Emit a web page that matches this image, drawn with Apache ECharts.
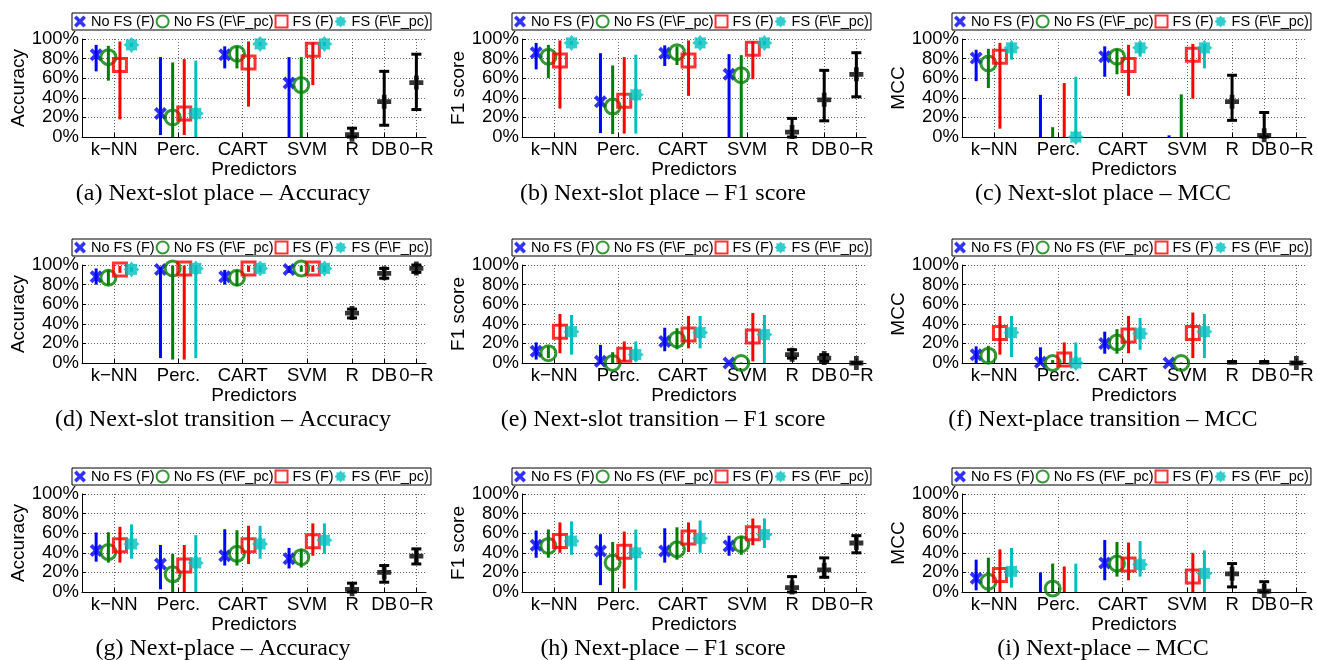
<!DOCTYPE html>
<html>
<head>
<meta charset="utf-8">
<script src="https://cdn.jsdelivr.net/npm/echarts@6/dist/echarts.min.js"></script>
<style>
html,body{margin:0;padding:0;background:#fff}
#chart{width:1317px;height:660px}
</style>
</head>
<body>
<div id="chart"></div>
<script>
// legend / series
var seriesNames = ['No FS (F)', 'No FS (F\\F_pc)', 'FS (F)', 'FS (F\\F_pc)'];
// x ticks: 4 predictors + 3 baselines
var tickPos = [1, 2, 3, 4, 4.7, 5.2, 5.7];
var tickLabels = ['k\u2212NN', 'Perc.', 'CART', 'SVM', 'R', 'DB', '0\u2212R'];
var predictorPos = [1, 2, 3, 4];
var baselinePos = [4.7, 5.2, 5.7];
var yNames = ['Accuracy', 'F1 score', 'MCC'];
var captions = [
    '(a) Next-slot place \u2013 Accuracy', '(b) Next-slot place \u2013 F1 score', '(c) Next-slot place \u2013 MCC',
    '(d) Next-slot transition \u2013 Accuracy', '(e) Next-slot transition \u2013 F1 score', '(f) Next-place transition \u2013 MCC',
    '(g) Next-place \u2013 Accuracy', '(h) Next-place \u2013 F1 score', '(i) Next-place \u2013 MCC'
];

// rows: No FS (F), No FS (F\F_pc), FS (F), FS (F\F_pc) ; cols: k-NN, Perc., CART, SVM  (values in %)
// base rows: mean, low, high ; cols: R, DB, 0-R
var meanA = [[84, 24, 84, 55], [81.5, 20, 85, 53], [73.5, 24, 76, 89], [94, 24, 95, 95]];
var lowA  = [[67, 2, 70, 0], [57.5, 0, 70, 0], [18, 2, 31, 53], [92, 0, 93, 93]];
var highA = [[94, 81.5, 92.5, 81.5], [93, 76, 92.5, 81.5], [97.5, 79.5, 97.5, 96.5], [96, 78, 97, 97]];
var baseA = [[2.4, 36, 55.5], [0, 12, 28], [9, 67, 84.5]];

var meanB = [[86, 36, 85.5, 64], [82, 31, 86.5, 63], [78, 37, 78, 90], [96, 43, 96, 96]];
var lowB  = [[69, 4, 72.5, 0], [60, 3, 73.5, 0], [29, 3.5, 42, 59], [94, 3.5, 94, 94]];
var highB = [[96, 85.5, 93.5, 84.5], [94, 73, 92.5, 83.5], [98.5, 81.5, 98.5, 97.5], [98, 84, 98, 98]];
var baseB = [[5, 38, 64], [0, 16.5, 41], [19, 68, 86]];

var meanC = [[80.5, null, 82, null], [75, null, 82, null], [82, null, 73.5, 84], [91, 0, 91, 91]];
var lowC  = [[57, 0, 61.5, 0], [50, 0, 64, 0], [8.5, 0, 42, 39], [79, 0, 82, 70]];
var highC = [[89, 43, 92.5, 1.7], [90, 10, 90, 43.5], [96, 55, 94, 95], [96, 61.5, 96, 95]];
var baseC = [[36, 1.7, null], [17, 0, null], [63, 25, null]];

var meanD = [[88, 95.5, 88, 95.5], [87, 96.5, 87, 96.5], [95.5, 96.5, 96.5, 96.5], [95.5, 96.5, 96.5, 96.5]];
var lowD  = [[80, 5, 80, 92], [79.5, 3.5, 78.5, 93], [92, 3.5, 93, 93], [93, 5, 93, 93]];
var highD = [[96.5, 98, 95, 99], [95, 99.5, 95, 99.5], [99, 99.5, 99.5, 99.5], [98, 99.5, 99, 99]];
var baseD = [[51, 91.5, 96.5], [46, 86.5, 92.5], [55, 96.5, 100]];

var meanE = [[12, 1.7, 22, 0], [10, 0, 24, 0], [32, 8.5, 29, 27], [32, 8.5, 31, 29]];
var lowE  = [[3.5, 0, 12, 0], [5, 0, 14, 0], [10, 1.7, 15, 1.7], [8.5, 1.7, 15, 0]];
var highE = [[21, 18.5, 36, 0.5], [17, 11, 35.5, 0.5], [50, 22, 48, 51], [49, 22, 48, 49]];
var baseE = [[8.5, 5, 0], [5, 1.7, 0], [13.5, 8.5, 0]];

var meanF = [[8.5, 0.7, 20, 0], [7.5, 0, 21, 0], [30.5, 3.5, 28, 30.5], [31, 0, 30, 32]];
var lowF  = [[0, 0, 9.5, 0], [0.7, 0, 9.5, 0], [8.5, 0, 10, 5], [6, 0, 13.5, 5]];
var highF = [[17, 16, 32, 0.5], [17.5, 3, 34.5, 0.5], [48, 21, 48, 51.5], [48, 21, 46, 50]];
var baseF = [[null, null, 0], [0, 0, 0], [1.5, 1.5, 0]];

var meanG = [[42.4, 28.6, 37, 34], [40.7, 18, 39, 35.5], [47.6, 27, 47.6, 51.7], [49, 29.7, 49, 52.8]];
var lowG  = [[31, 2.8, 27, 24], [30, 0, 27, 25], [30, 0, 28.6, 37], [34, 0, 34, 39]];
var highG = [[60.7, 48, 64, 45], [61, 39, 63, 44], [66.5, 48, 67.6, 70], [69, 58, 67.6, 70]];
var baseG = [[2.8, 20, 36.5], [0, 10, 28.6], [9, 27, 44]];

var meanH = [[47.7, 41.8, 41.8, 47], [47, 30, 43.5, 48.8], [52, 41, 55.7, 60], [52, 40, 54.7, 58.5]];
var lowH  = [[35, 7, 30, 37], [35, 0, 33, 38], [40, 3.5, 40.8, 47.7], [38, 1.7, 40, 45]];
var highH = [[62.7, 59, 65, 57.5], [63.8, 51, 66, 56.8], [71, 61.7, 71, 75], [72, 63.8, 73, 75]];
var baseH = [[4.5, 22.6, 50], [0, 15, 40], [15.7, 34.8, 57.5]];

var meanI = [[14, null, 29.6, null], [10.5, 3.5, 29, null], [17.4, null, 28, 15.7], [21, null, 28, 19]];
var lowI  = [[1.7, 0, 12, null], [0, 0, 15.7, null], [0, 0, 12, 0], [4.5, 0, 15.7, 0]];
var highI = [[33, 20, 53, null], [35, 29, 51, null], [43.5, 26, 50.5, 40], [45, 29, 52, 42.5]];
var baseI = [[18.5, 1, null], [5.2, 0, null], [29, 10.5, null]];

var panels = [
    [meanA, lowA, highA, baseA], [meanB, lowB, highB, baseB], [meanC, lowC, highC, baseC],
    [meanD, lowD, highD, baseD], [meanE, lowE, highE, baseE], [meanF, lowF, highF, baseF],
    [meanG, lowG, highG, baseG], [meanH, lowH, highH, baseH], [meanI, lowI, highI, baseI]
];

// layout / style
var colOff = [0, 440, 880];
var rowOff = [0, 226, 455];
var colors = ['#0000ff', '#008000', '#ff0000', '#00bfbf'];
var dx = [-0.28, -0.09, 0.09, 0.27];
var sans = 'Liberation Sans';

function starPath(rOut, rIn) {
    var s = 'path://';
    for (var i = 0; i < 16; i++) {
        var a = i * Math.PI / 8 - Math.PI / 2;
        var r = (i % 2) ? rIn : rOut;
        s += (i ? 'L' : 'M') + (5 + r * Math.cos(a)).toFixed(3) + ',' + (5 + r * Math.sin(a)).toFixed(3);
    }
    return s + 'Z';
}
var symX = 'path://M0,2.1L2.1,0L5,2.9L7.9,0L10,2.1L7.1,5L10,7.9L7.9,10L5,7.1L2.1,10L0,7.9L2.9,5Z';
var symPlus = 'path://M3.3,0H6.7V3.3H10V6.7H6.7V10H3.3V6.7H0V3.3H3.3Z';
var symbols = [symX, 'circle', 'rect', starPath(5, 3.6)];
var sizes = [13, 15, 13, 16];

function barItem(capHalf) {
    return function (params, api) {
        var x = api.value(0);
        var p1 = api.coord([x, api.value(1)]);
        var p2 = api.coord([x, api.value(2)]);
        var st = {stroke: api.visual('color'), lineWidth: 3};
        var ch = [{type: 'line', shape: {x1: p1[0], y1: p1[1], x2: p2[0], y2: p2[1]}, style: st}];
        if (capHalf) {
            ch.push({type: 'line', shape: {x1: p1[0] - capHalf, y1: p1[1], x2: p1[0] + capHalf, y2: p1[1]}, style: st});
            ch.push({type: 'line', shape: {x1: p2[0] - capHalf, y1: p2[1], x2: p2[0] + capHalf, y2: p2[1]}, style: st});
        }
        return {type: 'group', children: ch};
    };
}

function xLabel(v) {
    for (var i = 0; i < tickPos.length; i++) {
        if (Math.abs(tickPos[i] - v) < 1e-6) return tickLabels[i];
    }
    return '';
}

var grids = [], xAxes = [], yAxes = [], legends = [], titles = [];
var markerSeries = [], barSeries = [];

panels.forEach(function (pd, p) {
    var r = Math.floor(p / 3), c = p % 3;
    var mean = pd[0], low = pd[1], high = pd[2], base = pd[3];
    grids.push({left: colOff[c] + 82, top: rowOff[r] + 39, width: 344, height: 98,
        containLabel: false, outerBoundsMode: 'none'});
    xAxes.push({
        gridIndex: p, type: 'value', min: 0.5, max: 5.85,
        name: 'Predictors', nameLocation: 'middle', nameGap: 12,
        nameTextStyle: {fontFamily: sans, fontSize: 19, color: '#000'},
        axisLine: {lineStyle: {color: '#000', width: 1}},
        axisTick: {show: true, inside: true, length: 4, customValues: tickPos, lineStyle: {color: '#000'}},
        axisLabel: {customValues: tickPos, formatter: xLabel, hideOverlap: false,
            fontFamily: sans, fontSize: 18.5, color: '#000', margin: 3},
        splitLine: {show: true, lineStyle: {type: [1, 2], color: '#666', width: 1}}
    });
    yAxes.push({
        gridIndex: p, type: 'value', min: 0, max: 100, interval: 20,
        name: yNames[c], nameLocation: 'middle', nameGap: 53,
        nameTextStyle: {fontFamily: sans, fontSize: 19, color: '#000'},
        axisLine: {show: true, lineStyle: {color: '#000', width: 1}},
        axisTick: {show: true, inside: true, length: 4, lineStyle: {color: '#000'}},
        axisLabel: {formatter: '{value}%', fontFamily: sans, fontSize: 18.5, color: '#000', margin: 3},
        splitLine: {show: true, lineStyle: {type: [1, 2], color: '#666', width: 1}}
    });
    legends.push({
        data: seriesNames, left: colOff[c] + 72, top: rowOff[r] + 13, width: 380,
        orient: 'horizontal', itemGap: 1, itemWidth: 12, itemHeight: 12,
        padding: [1, 2], borderColor: '#000', borderWidth: 1, backgroundColor: '#fff',
        selectedMode: false,
        textStyle: {fontFamily: sans, fontSize: 14.5, color: '#000'}
    });
    titles.push({
        text: captions[p], left: colOff[c] + 223, top: rowOff[r] + 182, textAlign: 'center', padding: 0,
        textStyle: {fontFamily: 'Liberation Serif', fontSize: 24, fontWeight: 'normal', color: '#000'}
    });

    for (var k = 0; k < 4; k++) {
        var isEmpty = (k === 1 || k === 2);
        markerSeries.push({
            type: 'scatter', name: seriesNames[k], xAxisIndex: p, yAxisIndex: p,
            symbol: symbols[k], symbolSize: sizes[k], clip: false, z: 4,
            itemStyle: isEmpty ? {color: 'rgba(0,0,0,0)', borderColor: colors[k], borderWidth: 3}
                               : {color: colors[k], borderWidth: 0},
            data: predictorPos.map(function (x, i) { return [x + dx[k], mean[k][i]]; })
                .filter(function (d) { return d[1] !== null; })
        });
        barSeries.push({
            type: 'custom', name: seriesNames[k], xAxisIndex: p, yAxisIndex: p, z: 3,
            itemStyle: {color: colors[k]},
            encode: {x: 0, y: [1, 2]},
            renderItem: barItem(0),
            data: predictorPos.map(function (x, i) { return [x + dx[k], low[k][i], high[k][i]]; })
                .filter(function (d) { return d[2] !== null; })
        });
    }
    barSeries.push({
        type: 'custom', name: 'baseline', xAxisIndex: p, yAxisIndex: p, z: 3,
        itemStyle: {color: '#000'},
        encode: {x: 0, y: [1, 2]},
        renderItem: barItem(5),
        data: baselinePos.map(function (x, j) { return [x, base[1][j], base[2][j]]; })
            .filter(function (d) { return d[2] !== null; })
    });
    barSeries.push({
        type: 'scatter', name: 'baseline', xAxisIndex: p, yAxisIndex: p, z: 4,
        symbol: symPlus, symbolSize: 14, clip: false,
        itemStyle: {color: '#000', borderWidth: 0},
        data: baselinePos.map(function (x, j) { return [x, base[0][j]]; })
            .filter(function (d) { return d[1] !== null; })
    });
});

var chart = echarts.init(document.getElementById('chart'), null, {renderer: 'canvas'});
chart.setOption({
    animation: false,
    backgroundColor: '#fff',
    title: titles,
    legend: legends,
    grid: grids,
    xAxis: xAxes,
    yAxis: yAxes,
    series: markerSeries.concat(barSeries)
});
</script>
</body>
</html>
